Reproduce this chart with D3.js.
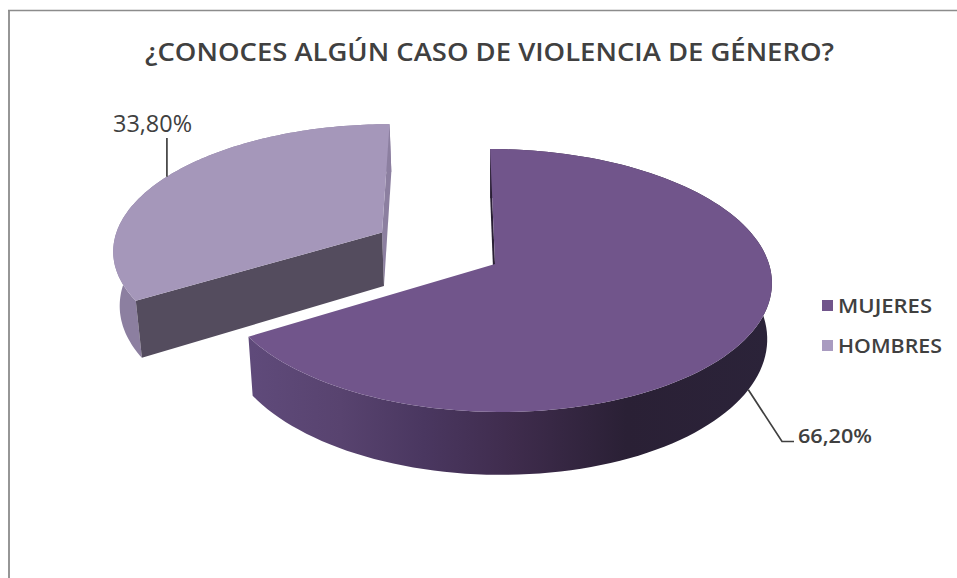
<!DOCTYPE html>
<html><head><meta charset="utf-8">
<script src="https://cdnjs.cloudflare.com/ajax/libs/d3/7.8.5/d3.min.js"></script>
<style>html,body{margin:0;padding:0;background:#fff}svg{display:block}text{font-family:"Open Sans",sans-serif;fill:#404040}</style>
</head><body><svg id="c" width="957" height="578"></svg>
<script>
const titleText = "¿CONOCES ALGÚN CASO DE VIOLENCIA DE GÉNERO?";
const categories = ["MUJERES", "HOMBRES"];
const values = [66.2, 33.8];
const valueLabels = ["66,20%", "33,80%"];
const topColors = ["#71558b", "#a597ba"];
const legendColors = ["#71558b", "#a99bc0"];
const startWallColors = ["#2a2035", "#544c5e"];
const endWallColors = ["none", "#8c7fa0"];
const rimColors = ["url(#rim0)", "#8c7fa0"];
const explode = [0, 0.489];

const svg = d3.select("#c");
const W = 957, H = 578;
// frame
svg.append("path").attr("d", `M9,${H}V10.5`).attr("fill","none").attr("stroke","#969696").attr("stroke-width",2);
svg.append("path").attr("d", `M8,10.5H${W}`).attr("fill","none").attr("stroke","#8c8c8c").attr("stroke-width",1.5);

svg.append("text").attr("x",145).attr("y",61).attr("font-size",25).attr("font-weight",600)
  .attr("textLength",689).attr("lengthAdjust","spacingAndGlyphs").text(titleText);

// oblique projection of the pie plane, with perspective
const x0 = 495, y0 = 264, Rx = 274, Ry = 129.4, P = 0.1255, depth = 55, baseShrink = 0.983, shear = 0.02;
const explodeTurn = 1.6 * Math.PI / 180;
const project = (u, v, low) => {
  const s = 1 / (1 - P * v);
  const k = low ? baseShrink : 1;
  return [x0 + (u + shear * v) * s * Rx * k, y0 + v * s * Ry + (low ? depth * s : 0)];
};
const total = d3.sum(values);
const angle = d3.scaleLinear().domain([0, total]).range([0, 2 * Math.PI]);
const line = d3.line();
const defs = svg.append("defs");
const gradStops = [[0,"#5f4a7a"],[0.17,"#58436f"],[0.33,"#4a3760"],[0.5,"#3f2c4d"],[0.72,"#2a2035"],[1,"#2b2339"]];
const g0 = defs.append("linearGradient").attr("id","rim0").attr("gradientUnits","userSpaceOnUse")
  .attr("x1",252).attr("x2",772).attr("y1",0).attr("y2",0);
gradStops.forEach(s => g0.append("stop").attr("offset",s[0]).attr("stop-color",s[1]));

let cum = 0;
const slices = values.map((v,i) => {
  const a0 = angle(cum), a1 = angle(cum + v); cum += v;
  const mid = (a0 + a1) / 2;
  const ex = explode[i];
  const ou = Math.sin(mid + explodeTurn) * ex, ov = -Math.cos(mid + explodeTurn) * ex;
  const at = (a, low) => project(ou + Math.sin(a), ov - Math.cos(a), low);
  const apex = low => project(ou, ov, low);
  const arc = low => d3.range(0, 121).map(j => at(a0 + (a1 - a0) * j / 120, low));
  return {i, a0, a1, mid, at, apex, arc};
});

// back slice first
[slices[1], slices[0]].forEach(s => {
  const g = svg.append("g");
  g.append("path").attr("d", line([s.apex(false), s.at(s.a1,false), s.at(s.a1,true), s.apex(true)]) + "Z").attr("fill", endWallColors[s.i]);
  g.append("path").attr("d", line(s.arc(false).concat(s.arc(true).reverse())) + "Z").attr("fill", rimColors[s.i]);
  g.append("path").attr("d", line([s.apex(false), s.at(s.a0,false), s.at(s.a0,true), s.apex(true)]) + "Z").attr("fill", startWallColors[s.i]);
  g.append("path").attr("d", line([s.apex(false)].concat(s.arc(false))) + "Z").attr("fill", topColors[s.i]);
});

// leaders and value labels
const leaderColor = "#404040";
const pA = slices[0].at(slices[0].mid, true);
svg.append("path").attr("d", line([pA, [782,441.5], [794,441.5]])).attr("fill","none").attr("stroke",leaderColor).attr("stroke-width",1.7);
svg.append("text").attr("x",798).attr("y",443).attr("font-size",20).attr("font-weight",600)
  .attr("textLength",74).attr("lengthAdjust","spacingAndGlyphs").text(valueLabels[0]);
const pB = slices[1].at(slices[1].mid, false);
svg.append("path").attr("d", line([pB, [pB[0],138]])).attr("fill","none").attr("stroke",leaderColor).attr("stroke-width",1.7);
svg.append("text").attr("x",113).attr("y",132).attr("font-size",23).attr("font-weight",400)
  .attr("textLength",79).attr("lengthAdjust","spacingAndGlyphs").text(valueLabels[1]);

// legend
const legendY = d3.scalePoint().domain(categories).range([305.5,345.5]);
const legendLen = [94,104];
categories.forEach((c,i) => {
  svg.append("rect").attr("x",822).attr("y",legendY(c)-5.5).attr("width",11).attr("height",11).attr("fill",legendColors[i]);
  svg.append("text").attr("x",838).attr("y",legendY(c)+7.5).attr("font-size",20).attr("font-weight",600)
    .attr("textLength",legendLen[i]).attr("lengthAdjust","spacingAndGlyphs").text(c);
});
</script></body></html>
